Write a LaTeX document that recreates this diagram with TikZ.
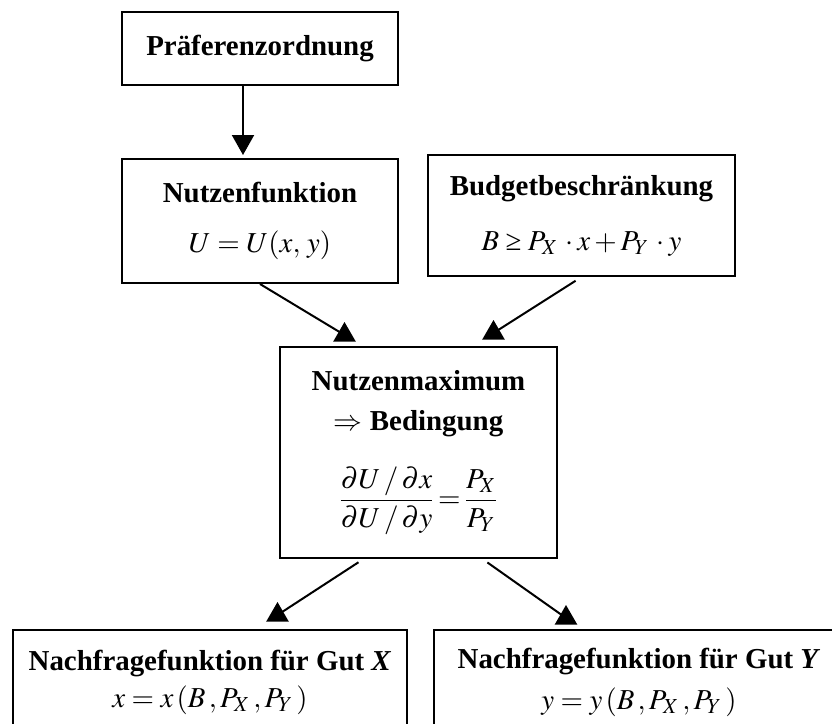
\documentclass[tikz,border=0pt]{standalone}
\usepackage{mathptmx}
\usepackage{fontspec}
\setmainfont{Liberation Serif}
\usetikzlibrary{arrows.meta,shapes.geometric}

\tikzset{
box/.style={draw,rectangle,align=center,inner sep=0pt,font=\fontsize{14.45}{17.5}\selectfont},
tipup/.style={regular polygon,regular polygon sides=3,fill,inner sep=0pt,minimum size=13pt},
}
\newcommand{\grgl}{\mathrel{\mbox{≥}}}

\begin{document}
\begin{tikzpicture}[x=0.5pt,y=-0.5pt,line width=1pt]
\path[use as bounding box,clip](0,0) rectangle (832,724);

\node[box,minimum width=138pt,minimum height=36.5pt](pz) at (260,48.5){\textbf{Präferenzordnung}};
\node[box,minimum width=138pt,minimum height=62pt](nf) at (260,221){\textbf{Nutzenfunktion}\\[7.5pt]$U = U(x,\,y)$};
\node[box,minimum width=153.5pt,minimum height=60.5pt](bc) at (581.5,215.5){\textbf{Budgetbeschränkung}\\[10pt]$B \grgl P_X\, \cdot x + P_Y\, \cdot y$};
\node[box,minimum width=138.5pt,minimum height=105.5pt](nm) at (418.5,452.5){\textbf{Nutzenmaximum}\\[2.5pt]$\Rightarrow$ \textbf{Bedingung}\\[14pt]$\displaystyle\frac{\partial U\,/\,\partial x}{\partial U\,/\,\partial y}\!=\!\frac{P_X}{P_Y}$};
\node[box,minimum width=197pt,minimum height=52pt](nx) at (210,682){\textbf{Nachfragefunktion für Gut \textit{X}}\\[1pt]$x = x\,(B\,,P_X\,,P_Y\,)$};
\node[box,minimum width=205pt,minimum height=52pt](ny) at (639,682){\textbf{Nachfragefunktion für Gut \textit{Y}}\\[3pt]$y = y\,(B\,,P_X\,,P_Y\,)$};

% Pfeilspitzen
\node[tipup](tA) at (344.5,335){};
\node[tipup](tB) at (493.5,333){};
\node[tipup](tC) at (277.5,615){};
\node[tipup](tD) at (566,618){};

\path
([xshift=-8.5pt]pz.south) edge[-{Triangle[width=11pt,length=10pt]},shorten >=1.5pt] ([xshift=-8.5pt]nf.north)
(nf.south) edge (tA.center)
(bc.south) edge[shorten <=3.5pt] (tB.center)
([xshift=-27.5pt]nm.south) edge[shorten <=3pt] (tC.center)
([xshift=32pt]nm.south) edge[shorten <=3pt] (tD.center);
\end{tikzpicture}
\end{document}
